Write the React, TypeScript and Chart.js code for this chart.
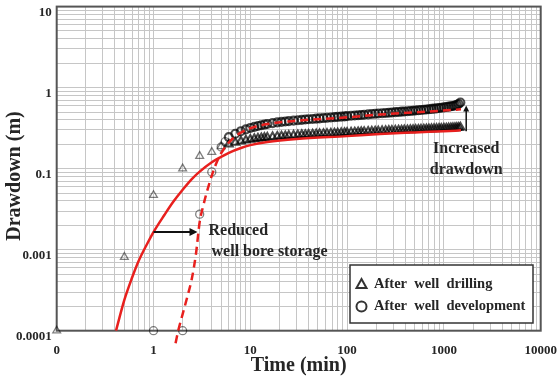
import React, { useEffect, useRef } from "react";
import { Chart, registerables } from "chart.js";

Chart.register(...registerables);

// Log-log axis ranges
const X_MIN = 0.1;
const X_MAX = 10000;
const Y_MIN = 0.001;
const Y_MAX = 10;

// Major tick values and the text printed at them
const X_MAJOR = [0.1, 1, 10, 100, 1000, 10000];
const X_MAJOR_LABELS = ["0", "1", "10", "100", "1000", "10000"];
const Y_MAJOR = [0.001, 0.01, 0.1, 1, 10];
const Y_MAJOR_LABELS = ["0.0001", "0.001", "0.1", "1", "10"];

// Logged times (min) shared by both tests after the first few minutes
const LATE_TIME = [
  6, 7, 8, 9, 10, 11, 12, 13, 14, 15, 17, 19, 21, 23, 25, 28, 31, 34, 37, 40,
  44, 48, 52, 57, 62, 68, 74, 80, 87, 94, 100, 110, 120, 130, 140, 150, 165,
  180, 195, 210, 230, 250, 270, 290, 315, 340, 365, 390, 420, 450, 480, 510,
  545, 580, 620, 660, 700, 745, 790, 840, 890, 940, 1000, 1060, 1120, 1180,
  1240, 1300, 1360, 1420, 1480,
];

// Observed drawdown after well drilling (m)
const DRILL_EARLY_TIME = [0, 0.5, 1, 2, 3, 4, 5];
const DRILL_EARLY_DD = [0, 0.0081, 0.047, 0.1, 0.143, 0.16, 0.188];
const DRILL_LATE_DD = [
  0.2, 0.21, 0.218, 0.224, 0.229, 0.233, 0.236, 0.239, 0.241, 0.243, 0.246,
  0.249, 0.251, 0.253, 0.255, 0.257, 0.259, 0.261, 0.262, 0.264, 0.265, 0.266,
  0.268, 0.269, 0.27, 0.272, 0.273, 0.274, 0.276, 0.277, 0.278, 0.28, 0.281,
  0.283, 0.284, 0.285, 0.287, 0.288, 0.289, 0.29, 0.292, 0.293, 0.294, 0.295,
  0.296, 0.297, 0.298, 0.299, 0.3, 0.301, 0.302, 0.303, 0.304, 0.305, 0.306,
  0.307, 0.308, 0.309, 0.31, 0.311, 0.312, 0.313, 0.314, 0.315, 0.316, 0.317,
  0.318, 0.319, 0.32, 0.322, 0.324,
];

// Observed drawdown after well development (m)
const DEV_EARLY_TIME = [1, 2, 3, 4, 5, 5.5];
const DEV_EARLY_DD = [0, 0, 0.0274, 0.091, 0.185, 0.215];
const DEV_LATE_DD = [
  0.245, 0.27, 0.29, 0.305, 0.318, 0.328, 0.336, 0.343, 0.35, 0.356, 0.365,
  0.372, 0.378, 0.382, 0.386, 0.392, 0.396, 0.4, 0.404, 0.407, 0.41, 0.414,
  0.417, 0.421, 0.424, 0.428, 0.432, 0.435, 0.439, 0.442, 0.445, 0.449, 0.453,
  0.457, 0.46, 0.463, 0.468, 0.472, 0.476, 0.479, 0.483, 0.487, 0.49, 0.494,
  0.498, 0.501, 0.505, 0.508, 0.512, 0.515, 0.519, 0.522, 0.526, 0.53, 0.534,
  0.538, 0.542, 0.546, 0.55, 0.555, 0.56, 0.565, 0.57, 0.576, 0.582, 0.588,
  0.594, 0.602, 0.612, 0.628, 0.655,
];

// Fitted curve, after drilling (solid red)
const FIT_DRILL_TIME = [
  0.41, 0.5, 0.6, 0.7, 0.85, 1, 1.3, 1.6, 2, 2.5, 3, 4, 5, 6, 8, 10, 15, 30,
  100, 218, 500, 1000, 1500,
];
const FIT_DRILL_DD = [
  0.001, 0.0024, 0.0045, 0.0072, 0.0115, 0.0165, 0.027, 0.039, 0.055, 0.075,
  0.092, 0.12, 0.14, 0.157, 0.18, 0.195, 0.213, 0.232, 0.252, 0.267, 0.28,
  0.29, 0.297,
];

// Fitted curve, after development (dashed red)
const FIT_DEV_TIME = [
  1.69, 1.8, 2, 2.25, 2.5, 2.75, 3, 3.25, 3.5, 4, 4.5, 5, 5.5, 6, 7, 8, 10, 15,
  30, 100, 218, 500, 1069, 1500,
];
const FIT_DEV_DD = [
  0.0007, 0.001, 0.0016, 0.0027, 0.0045, 0.009, 0.022, 0.034, 0.048, 0.082,
  0.12, 0.155, 0.185, 0.21, 0.25, 0.278, 0.315, 0.355, 0.39, 0.43, 0.465,
  0.495, 0.525, 0.54,
];

const SERIF = '"Liberation Serif", "Times New Roman", serif';
const RED = "#e8201e";
const TEXT = "#262626";

// isolated early readings are thin grey outlines; the dense record merges into a dark band
const markerEdge = (c: any) =>
  c.raw && c.raw.x < 6 ? "rgba(0,0,0,0.5)" : "rgba(0,0,0,0.7)";
const markerWidth = (c: any) => (c.raw && c.raw.x < 6 ? 1.3 : 2.1);

// zero time / zero drawdown sit on the axis floor of the log scales
const toPoints = (t: number[], d: number[], clampFloor: boolean) =>
  t.map((ti, i) => ({
    x: Math.max(ti, X_MIN),
    y: clampFloor ? Math.max(d[i], Y_MIN) : d[i],
  }));

const majorLabel = (v: number, majors: number[], labels: string[]) => {
  const i = majors.findIndex((m) => Math.abs(Math.log10(v) - Math.log10(m)) < 1e-6);
  return i >= 0 ? labels[i] : "";
};

const decadeTicks = (lo: number, hi: number) => {
  const out: { value: number }[] = [];
  for (let e = Math.round(Math.log10(lo)); e < Math.round(Math.log10(hi)); e++) {
    for (let m = 1; m < 10; m++) out.push({ value: m * Math.pow(10, e) });
  }
  out.push({ value: hi });
  return out;
};

const arrowHead = (
  ctx: CanvasRenderingContext2D,
  x: number,
  y: number,
  dx: number,
  dy: number,
  len: number,
  half: number
) => {
  ctx.beginPath();
  ctx.moveTo(x, y);
  ctx.lineTo(x - dx * len - dy * half, y - dy * len + dx * half);
  ctx.lineTo(x - dx * len + dy * half, y - dy * len - dx * half);
  ctx.closePath();
  ctx.fill();
};

const framePlugin = {
  id: "frame",
  beforeDatasetsDraw(chart: any) {
    const { ctx, chartArea: a } = chart;
    ctx.save();
    ctx.strokeStyle = "#555";
    ctx.lineWidth = 2;
    ctx.strokeRect(a.left, a.top, a.right - a.left, a.bottom - a.top);
    ctx.restore();
  },
};

const overlayPlugin = {
  id: "overlay",
  afterDraw(chart: any) {
    const { ctx, scales } = chart;
    const xs = scales.x;
    const ys = scales.y;
    ctx.save();

    // axis titles
    ctx.fillStyle = TEXT;
    ctx.font = `bold 20px ${SERIF}`;
    ctx.textAlign = "center";
    ctx.textBaseline = "middle";
    ctx.fillText("Time (min)", (xs.left + xs.right) / 2, 366);
    ctx.save();
    ctx.translate(15, 176);
    ctx.rotate(-Math.PI / 2);
    ctx.fillText("Drawdown (m)", 0, 0);
    ctx.restore();

    // reduced well bore storage arrow
    ctx.strokeStyle = "#111";
    ctx.fillStyle = "#111";
    const hy = ys.getPixelForValue(0.0165);
    const hx0 = xs.getPixelForValue(1);
    const hx1 = xs.getPixelForValue(2.85);
    ctx.lineWidth = 2;
    ctx.beginPath();
    ctx.moveTo(hx0, hy);
    ctx.lineTo(hx1 - 6, hy);
    ctx.stroke();
    arrowHead(ctx, hx1, hy, 1, 0, 8, 4);

    ctx.fillStyle = TEXT;
    ctx.font = `bold 16px ${SERIF}`;
    ctx.textAlign = "left";
    ctx.fillText("Reduced", hx1 + 11, hy - 1);
    ctx.fillText("well bore storage", hx1 + 14, hy + 20);

    // increased drawdown arrow
    const vx = xs.getPixelForValue(1700);
    const vy0 = ys.getPixelForValue(0.29);
    const vy1 = ys.getPixelForValue(0.6);
    ctx.strokeStyle = "#111";
    ctx.fillStyle = "#111";
    ctx.lineWidth = 1.5;
    ctx.beginPath();
    ctx.moveTo(vx, vy0);
    ctx.lineTo(vx, vy1 + 4);
    ctx.stroke();
    arrowHead(ctx, vx, vy1, 0, -1, 6, 3);

    ctx.fillStyle = TEXT;
    ctx.textAlign = "center";
    ctx.fillText("Increased", vx, vy0 + 18);
    ctx.fillText("drawdown", vx, vy0 + 39);

    // legend box
    const lx = 350;
    const ly = 265;
    const lw = 183;
    const lh = 58;
    ctx.fillStyle = "#fff";
    ctx.fillRect(lx, ly, lw, lh);
    ctx.strokeStyle = "#333";
    ctx.lineWidth = 1.5;
    ctx.strokeRect(lx, ly, lw, lh);

    const mx = lx + 11.5;
    const r1 = ly + 19;
    const r2 = ly + 41.5;
    ctx.strokeStyle = "#333";
    ctx.lineWidth = 2;
    ctx.beginPath();
    ctx.moveTo(mx, r1 - 5);
    ctx.lineTo(mx + 5, r1 + 4);
    ctx.lineTo(mx - 5, r1 + 4);
    ctx.closePath();
    ctx.stroke();
    ctx.beginPath();
    ctx.arc(mx, r2, 5, 0, Math.PI * 2);
    ctx.stroke();

    ctx.fillStyle = TEXT;
    ctx.font = `bold 14.5px ${SERIF}`;
    ctx.textAlign = "left";
    ctx.fillText("After  well  drilling", lx + 24, r1);
    ctx.fillText("After  well  development", lx + 24, r2);

    ctx.restore();
  },
};

export default function App() {
  const canvasRef = useRef<HTMLCanvasElement | null>(null);

  useEffect(() => {
    const canvas = canvasRef.current;
    if (!canvas) return;

    const drillPts = toPoints(
      [...DRILL_EARLY_TIME, ...LATE_TIME],
      [...DRILL_EARLY_DD, ...DRILL_LATE_DD],
      true
    );
    const devPts = toPoints(
      [...DEV_EARLY_TIME, ...LATE_TIME],
      [...DEV_EARLY_DD, ...DEV_LATE_DD],
      true
    );

    const chart = new Chart(canvas, {
      type: "scatter",
      data: {
        datasets: [
          {
            label: "Fit after development",
            data: toPoints(FIT_DEV_TIME, FIT_DEV_DD, false),
            showLine: true,
            borderColor: RED,
            borderWidth: 2.5,
            borderDash: [8, 5],
            pointRadius: 0,
            cubicInterpolationMode: "monotone",
            clip: false,
          },
          {
            label: "Fit after drilling",
            data: toPoints(FIT_DRILL_TIME, FIT_DRILL_DD, false),
            showLine: true,
            borderColor: RED,
            borderWidth: 2.5,
            pointRadius: 0,
            cubicInterpolationMode: "monotone",
            clip: false,
          },
          {
            label: "After well development",
            data: devPts,
            pointStyle: "circle",
            pointRadius: 4,
            pointBorderWidth: markerWidth,
            pointBorderColor: markerEdge,
            pointBackgroundColor: "rgba(0,0,0,0)",
            clip: false,
          },
          {
            label: "After well drilling",
            data: drillPts,
            pointStyle: "triangle",
            pointRadius: 4.5,
            pointBorderWidth: markerWidth,
            pointBorderColor: markerEdge,
            pointBackgroundColor: "rgba(0,0,0,0)",
            clip: false,
          },
        ],
      },
      options: {
        responsive: false,
        animation: false,
        events: [],
        layout: { padding: { top: 6, right: 16.3, left: 0, bottom: 0 } },
        plugins: {
          legend: { display: false },
          tooltip: { enabled: false },
        },
        scales: {
          x: {
            type: "logarithmic",
            min: X_MIN,
            max: X_MAX,
            afterBuildTicks: (s: any) => {
              s.ticks = decadeTicks(X_MIN, X_MAX);
            },
            afterFit: (s: any) => {
              s.height = 45.3;
              s.paddingLeft = 0;
              s.paddingRight = 0;
            },
            grid: { color: "#c6c6c6", lineWidth: 1, drawTicks: false },
            border: { display: false },
            ticks: {
              autoSkip: false,
              maxRotation: 0,
              padding: 12,
              color: TEXT,
              font: { family: SERIF, size: 13, weight: "bold" },
              callback: (v: any) => majorLabel(Number(v), X_MAJOR, X_MAJOR_LABELS),
            },
          },
          y: {
            type: "logarithmic",
            min: Y_MIN,
            max: Y_MAX,
            afterBuildTicks: (s: any) => {
              s.ticks = decadeTicks(Y_MIN, Y_MAX);
            },
            afterFit: (s: any) => {
              s.width = 56.7;
              s.paddingTop = 0;
              s.paddingBottom = 0;
            },
            grid: { color: "#c6c6c6", lineWidth: 1, drawTicks: false },
            border: { display: false },
            ticks: {
              autoSkip: false,
              padding: 5,
              labelOffset: 6,
              color: TEXT,
              font: { family: SERIF, size: 13, weight: "bold" },
              callback: (v: any) => majorLabel(Number(v), Y_MAJOR, Y_MAJOR_LABELS),
            },
          },
        },
      },
      plugins: [framePlugin, overlayPlugin],
    } as any);

    return () => chart.destroy();
  }, []);

  return (
    <div
      style={{
        position: "absolute",
        left: 0,
        top: 0,
        width: 557,
        height: 376,
        background: "#fff",
      }}
    >
      <canvas ref={canvasRef} width={557} height={376} />
    </div>
  );
}
